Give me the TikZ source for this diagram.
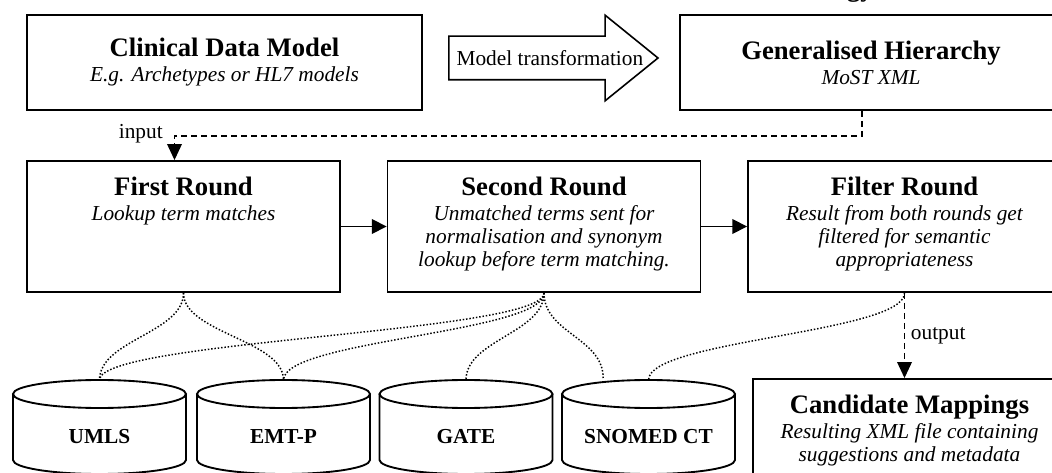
\documentclass[tikz,border=0pt]{standalone}
\usepackage{fontspec}
\setmainfont{Liberation Serif}
\usetikzlibrary{positioning,arrows.meta,shapes.arrows}

\newcommand\titlefnt{\fontsize{20}{24}\selectfont\bfseries\upshape}
\newcommand\notefnt{\fontsize{16}{17.25}\selectfont\itshape}

\tikzset{
  rbox/.style={draw, line width=1.4pt, minimum width=234.75pt, minimum height=98.25pt, inner sep=0pt, align=center, font=\notefnt},
  boxtxt/.style={align=center, inner sep=0pt, font=\notefnt},
  dbase/.style={draw, line width=1.4pt, fill=white},
  dblabel/.style={font=\fontsize{16}{18}\selectfont\bfseries, inner sep=0pt},
  solidlink/.style={line width=1.1pt, -{Triangle[length=11pt,width=11pt]}},
  dashlink/.style={line width=1pt, dash pattern=on 4.5pt off 3pt, -{Triangle[length=12pt,width=11pt]}},
  dotlink/.style={line width=1.1pt, dash pattern=on 1.1pt off 1.4pt},
}

\begin{document}
\begin{tikzpicture}[x=0.75pt,y=0.75pt,yscale=-1]
    \useasboundingbox (0,0) rectangle (1052,473);

    % title, cut by the top edge
    \node[anchor=base east, font=\titlefnt, inner sep=0pt] (ttl) at (874,-3) {ology};

    % Top row
    \node[rbox, minimum width=296.25pt, minimum height=71.25pt] (cdm) at (224.5,62.5) {{\titlefnt Clinical Data Model}\\[1.5pt] E.g. Archetypes or HL7 models};
    \node[rbox, minimum width=286.5pt, minimum height=71.25pt] (gh) at (871,62.5) {{\titlefnt Generalised Hierarchy}\\[1.5pt] MoST XML};
    \node[single arrow, draw, line width=1.2pt, font=\fontsize{16}{18}\selectfont, single arrow head extend=15.75pt, single arrow tip angle=78, text height=11pt, text depth=0pt, inner ysep=10.25pt, inner xsep=5.25pt, anchor=tail] (mt) at (448,58) {\makebox[125pt][l]{Model transformation}};

    % Rounds
    \node[rbox] (fr) at (183.5,226.5) {};
    \node[boxtxt, below=12.5pt of fr.north] (fr-t) {{\titlefnt First Round}\\[1.5pt] Lookup term matches};
    \node[rbox] (sr) at (544,226.5) {};
    \node[boxtxt, below=12.5pt of sr.north] (sr-t) {{\titlefnt Second Round}\\[1.5pt] Unmatched terms sent for\\ normalisation and synonym\\ lookup before term matching.};
    \node[rbox] (flt) at (904.5,226.5) {};
    \node[boxtxt, below=12.5pt of flt.north] (flt-t) {{\titlefnt Filter Round}\\[1.5pt] Result from both rounds get\\ filtered for semantic\\ appropriateness};

    % Result
    \node[rbox] (cm) at (909.5,444.5) {};
    \node[boxtxt, below=12.5pt of cm.north] (cm-t) {{\titlefnt Candidate Mappings}\\[1.5pt] Resulting XML file containing\\ suggestions and metadata};

    % Terminology sources
    \foreach \nm/\cx/\txt in {umls/99.5/UMLS, emtp/283.5/EMT-P, gate/466/GATE, snomed/648.5/SNOMED CT} {
      \draw[dbase] (\cx-86.5,394) -- (\cx-86.5,460) arc[start angle=180, end angle=0, x radius=86.5, y radius=14] -- (\cx+86.5,394);
      \draw[dbase] (\cx,394) ellipse [x radius=86.5, y radius=14];
      \node[dblabel] (\nm) at (\cx,437) {\txt};
      \coordinate (\nm-top) at (\cx,380);
    }

    % Flow
    \draw[dashlink] ([xshift=-6.75pt]gh.south) -- ++(0,25) -| ([xshift=-6.75pt]fr.north) node[pos=0.5, anchor=east, xshift=-5pt, yshift=2pt, font=\fontsize{16}{18}\selectfont] (inlbl) {input};
    \draw[solidlink] (fr.east) -- (sr.west);
    \draw[solidlink] (sr.east) -- (flt.west);
    \draw[dashlink] (flt.south) -- (flt.south |- cm.north) node[midway, right, xshift=1pt, font=\fontsize{16}{18}\selectfont] (outlbl) {output};

    % Lookups
    \draw[dotlink] (fr.south) .. controls +(0,40) and +(0,-40) .. (umls-top);
    \draw[dotlink] (fr.south) .. controls +(0,40) and +(0,-40) .. (emtp-top);
    \draw[dotlink] (sr.south) .. controls +(0,40) and +(0,-40) .. (umls-top);
    \draw[dotlink] (sr.south) .. controls +(0,40) and +(0,-40) .. (emtp-top);
    \draw[dotlink] (sr.south) .. controls +(0,40) and +(0,-40) .. (gate-top);
    \draw[dotlink] (sr.south) .. controls +(0,40) and +(0,-40) .. ([xshift=-34pt,yshift=-1.5pt]snomed-top);
    \draw[dotlink] (flt.south) .. controls +(0,40) and +(0,-40) .. (snomed-top);

\end{tikzpicture}
\end{document}
